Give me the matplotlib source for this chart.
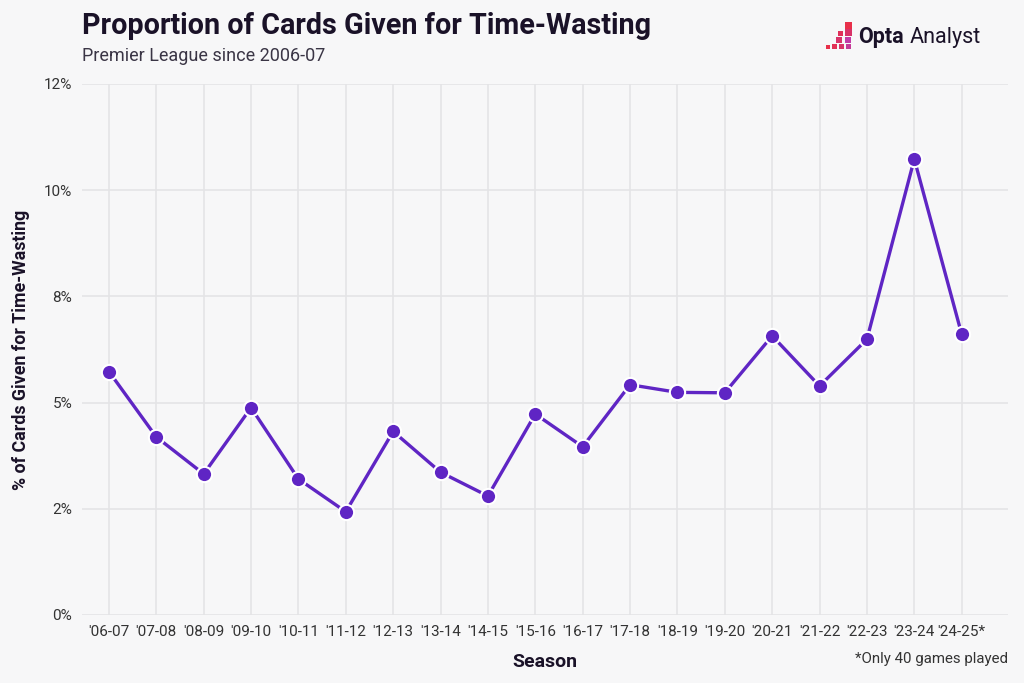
import numpy as np
import matplotlib.pyplot as plt
from matplotlib.patches import Rectangle

seasons = ["'06-07", "'07-08", "'08-09", "'09-10", "'10-11", "'11-12", "'12-13",
           "'13-14", "'14-15", "'15-16", "'16-17", "'17-18", "'18-19", "'19-20",
           "'20-21", "'21-22", "'22-23", "'23-24", "'24-25*"]
pct = [5.73, 4.19, 3.32, 4.88, 3.20, 2.43, 4.32, 3.36, 2.80, 4.73, 3.96,
       5.42, 5.24, 5.23, 6.57, 5.39, 6.49, 10.73, 6.61]
yticks = [0, 2.5, 5, 7.5, 10, 12.5]
ylabels = ['0%', '2%', '5%', '8%', '10%', '12%']

bg = '#f7f7f8'
ink = '#1a1228'
purple = '#5f25c4'

plt.rcParams['font.family'] = ['Roboto', 'DejaVu Sans']

fig = plt.figure(figsize=(10.24, 6.83), dpi=100, facecolor=bg)
ax = fig.add_axes([0.080, 0.0996, 0.904, 0.7775], facecolor=bg)

x = np.arange(len(seasons))
ax.plot(x, pct, color=purple, lw=2.4, marker='o', ms=11,
        mfc=purple, mec='white', mew=1.5, zorder=3)

ax.set_xlim(-0.57, 18.97)
ax.set_ylim(0, 12.5)
ax.set_xticks(x)
ax.set_xticklabels(seasons, fontsize=11, color='#333333')
ax.set_yticks(yticks)
ax.set_yticklabels(ylabels, fontsize=11, color='#333333')
ax.tick_params(length=0, pad=7)
ax.grid(True, color='#e4e4e6', lw=1.2)
ax.set_axisbelow(True)
for s in ax.spines.values():
    s.set_visible(False)

ax.set_ylabel('% of Cards Given for Time-Wasting', fontsize=12.8,
              fontweight='bold', color=ink, labelpad=10)
ax.set_xlabel('Season', fontsize=14, fontweight='bold', color=ink, labelpad=10)

fig.text(0.080, 0.962, 'Proportion of Cards Given for Time-Wasting',
         fontsize=20.7, fontweight='bold', color=ink, va='center')
fig.text(0.080, 0.918, 'Premier League since 2006-07',
         fontsize=13, color='#3a3545', va='center')
fig.text(0.984, 0.035, '*Only 40 games played', fontsize=10.8,
         color='#333333', ha='right', va='center')

# logo: staircase of small squares
sq = [(826, 45, 4), (832, 44, 5), (839, 44, 5), (846, 44, 5),
      (836, 37, 6), (845, 37, 6),
      (838, 31, 5), (845, 29, 7),
      (845, 22, 7)]
cols = ['#e8304a', '#e23256', '#d8346a', '#c43a98', '#d8346a', '#c23aa8',
        '#e0305a', '#d83268', '#e8304a']
for (px, py, s), c in zip(sq, cols):
    fig.add_artist(Rectangle((px / 1024, 1 - (py + s) / 683), s / 1024, s / 683,
                             transform=fig.transFigure, color=c, lw=0))
fig.text(858 / 1024, 1 - 37 / 683, 'Opta', fontsize=15.5, fontweight='bold',
         color=ink, va='center')
fig.text(910 / 1024, 1 - 37 / 683, 'Analyst', fontsize=15.5, color=ink, va='center')

fig.savefig('out.png', dpi=100, facecolor=bg)
